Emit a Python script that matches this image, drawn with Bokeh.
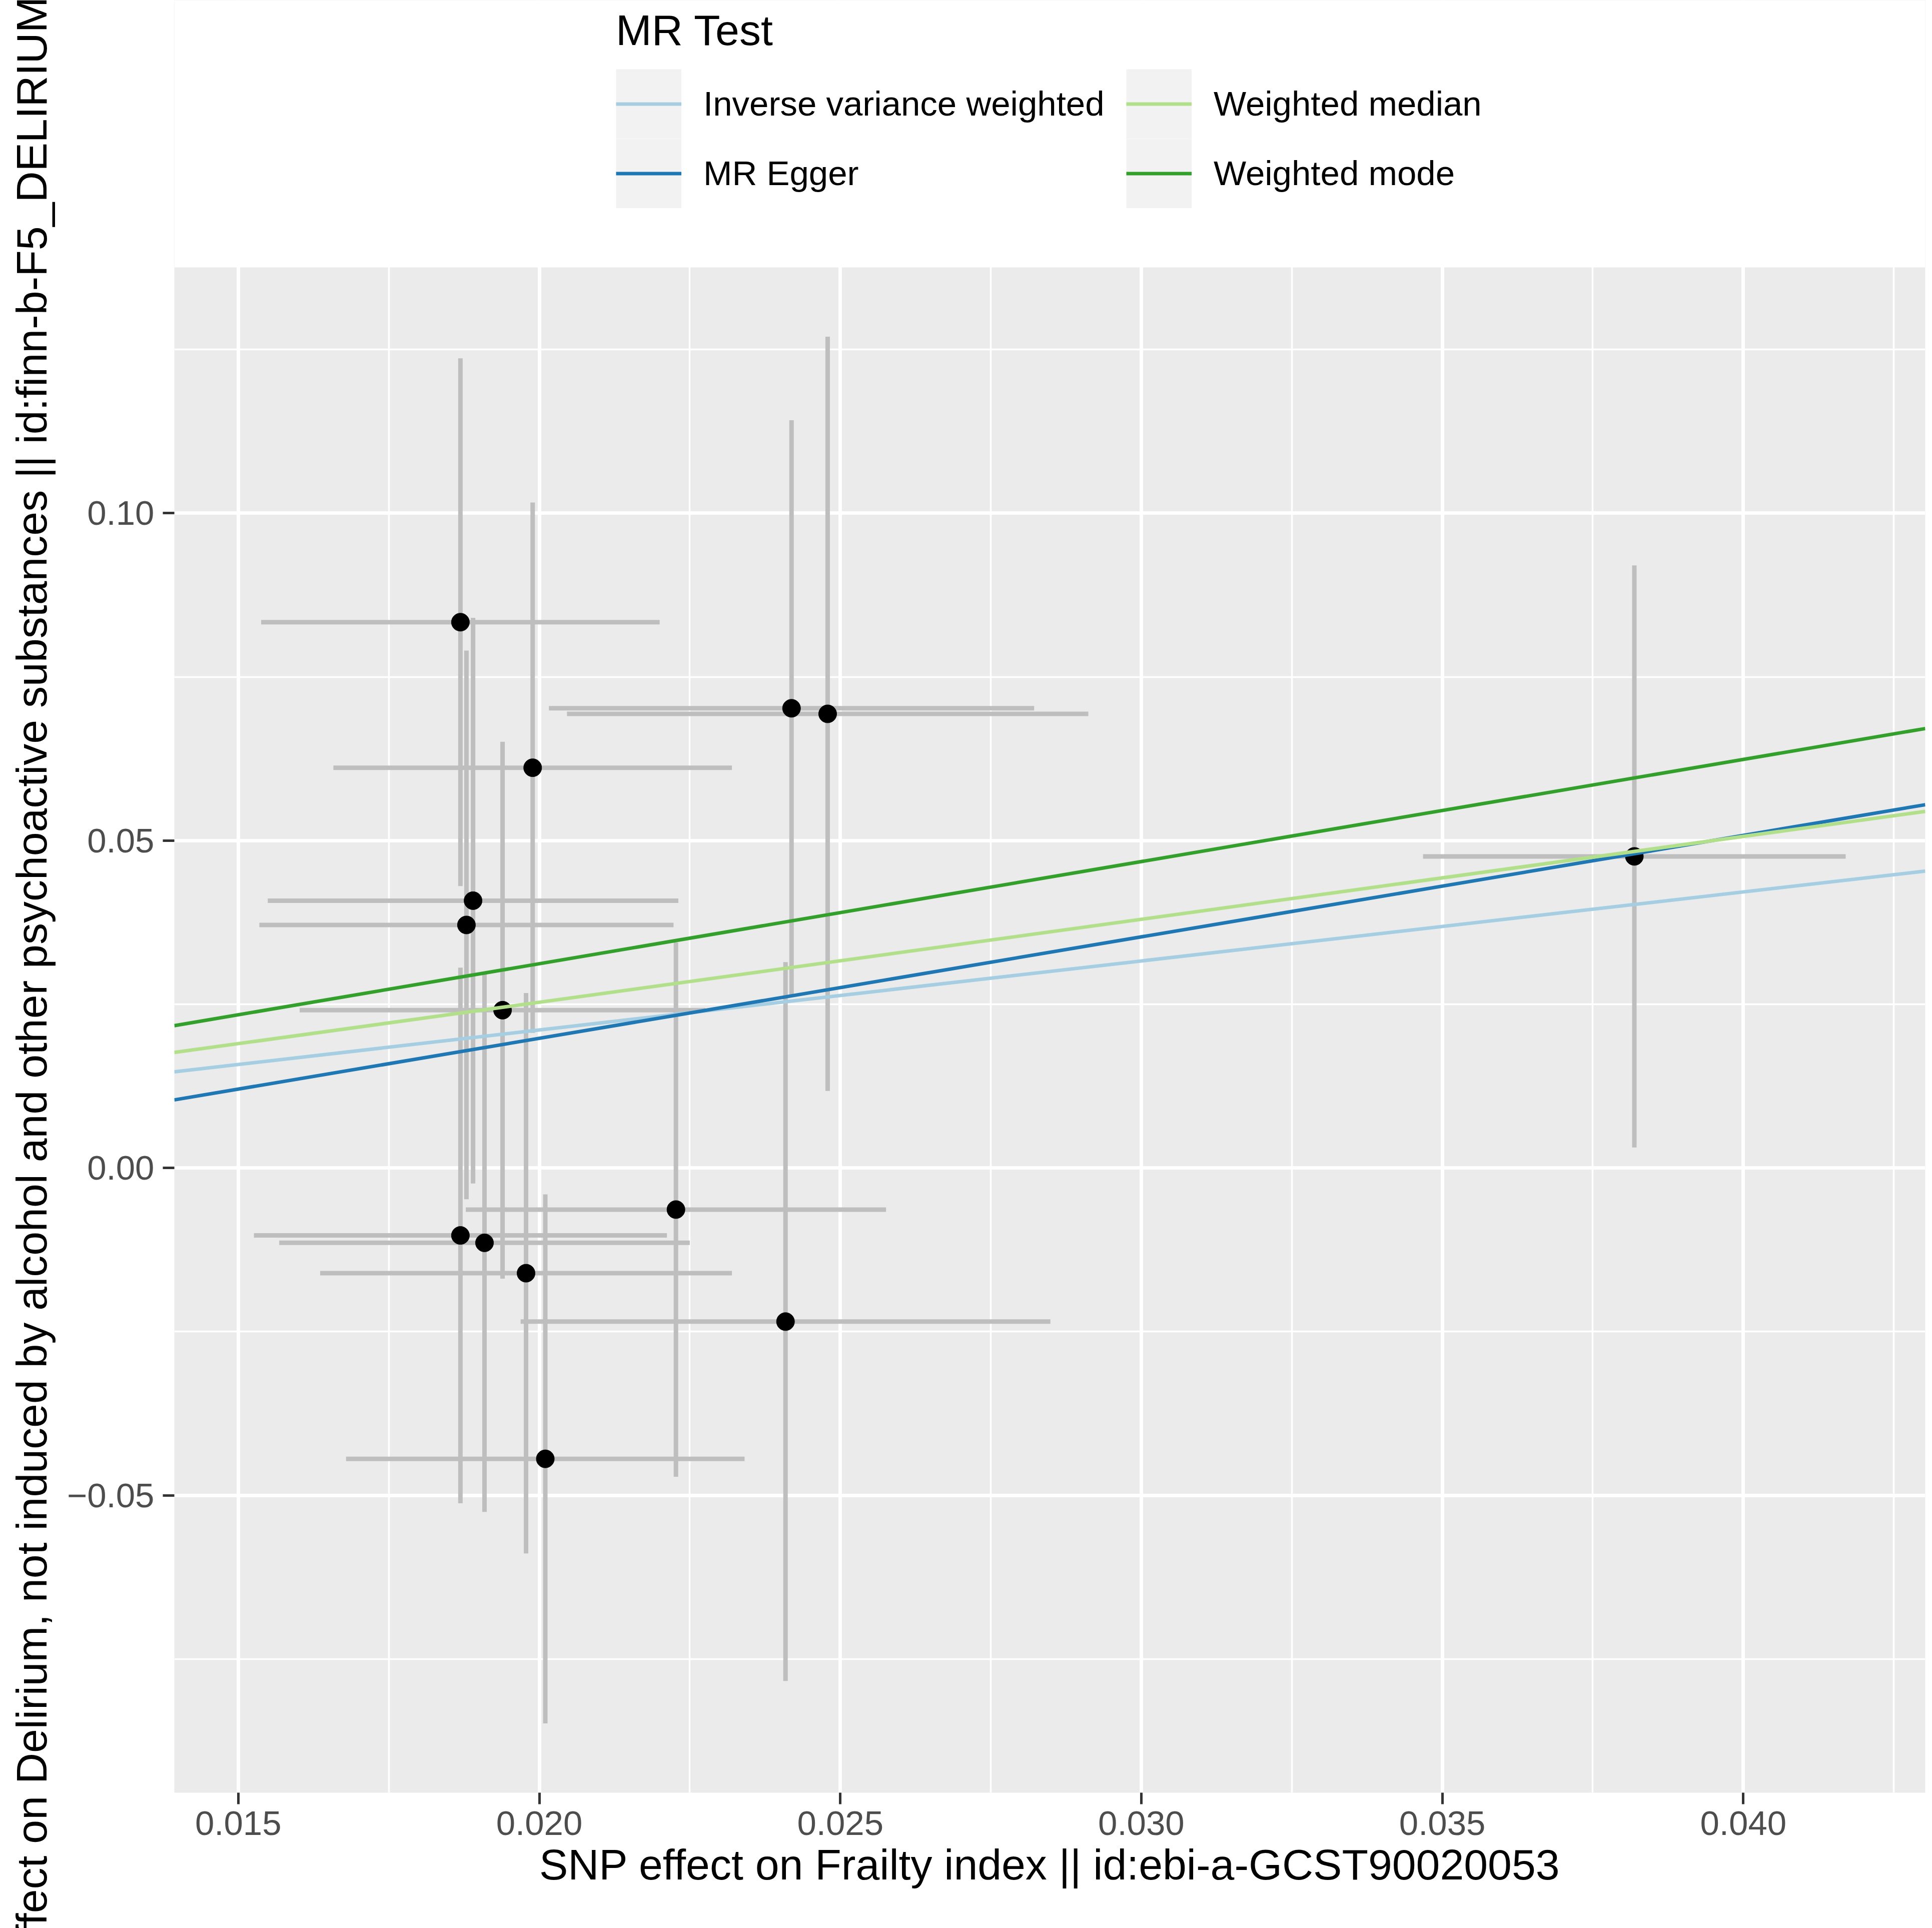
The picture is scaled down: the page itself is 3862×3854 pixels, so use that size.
from bokeh.plotting import figure
from bokeh.models import FixedTicker, Legend, LegendItem, Range1d, BoxAnnotation
from bokeh.embed import file_html
from bokeh.resources import INLINE

# ---------------- data ----------------
x_title = "SNP effect on Frailty index || id:ebi-a-GCST90020053"
y_title = ("SNP effect on Delirium, not induced by alcohol and other psychoactive "
           "substances || id:finn-b-F5_DELIRIUM")
legend_title = "MR Test"

beta_exp = [0.01869, 0.02419, 0.02479, 0.01989, 0.01890, 0.01879, 0.01939,
            0.03819, 0.02227, 0.01869, 0.01909, 0.01978, 0.02409, 0.02010]
se_exp = [0.00331, 0.00403, 0.00433, 0.00331, 0.00341, 0.00344, 0.00337,
          0.00351, 0.00349, 0.00343, 0.00341, 0.00342, 0.00440, 0.00331]
beta_out = [0.08336, 0.07021, 0.06936, 0.06113, 0.04083, 0.03712, 0.02410,
            0.04759, -0.00635, -0.01030, -0.01143, -0.01607, -0.02346, -0.04442]
se_out = [0.0403, 0.0440, 0.0576, 0.0405, 0.0432, 0.0419, 0.0410,
          0.04445, 0.0408, 0.0409, 0.0411, 0.0428, 0.0549, 0.0404]

methods = ["Inverse variance weighted", "MR Egger", "Weighted median", "Weighted mode"]
intercepts = [0.0, -0.0112, 0.0, 0.0]
slopes = [1.054, 1.55, 1.266, 1.56]
method_colors = ["#A6CEE3", "#1F78B4", "#B2DF8A", "#33A02C"]

x_ticks = [0.015, 0.020, 0.025, 0.030, 0.035, 0.040]
x_tick_labels = ["0.015", "0.020", "0.025", "0.030", "0.035", "0.040"]
x_minor = [0.0125, 0.0175, 0.0225, 0.0275, 0.0325, 0.0375, 0.0425]
y_ticks = [-0.05, 0.0, 0.05, 0.10]
y_tick_labels = ["\u22120.05", "0.00", "0.05", "0.10"]
y_minor = [-0.075, -0.025, 0.025, 0.075, 0.125]

# ---------------- scales (ggplot-like 5% expansion) ----------------
x_lo_d = min(b - s for b, s in zip(beta_exp, se_exp))
x_hi_d = max(b + s for b, s in zip(beta_exp, se_exp))
y_lo_d = min(b - s for b, s in zip(beta_out, se_out))
y_hi_d = max(b + s for b, s in zip(beta_out, se_out))
xpad = (x_hi_d - x_lo_d) * 0.05
ypad = (y_hi_d - y_lo_d) * 0.05
xlo, xhi = x_lo_d - xpad, x_hi_d + xpad
ylo, yhi = y_lo_d - ypad, y_hi_d + ypad

# layout: the frame also covers the legend strip above the panel
W, H = 3862, 3854
B_LEFT, B_RIGHT, B_BOTTOM = 348, 14, 271
LEGEND_STRIP = 534
frame_h = H - B_BOTTOM
panel_h = frame_h - LEGEND_STRIP
ytop = ylo + (yhi - ylo) * frame_h / panel_h

FONT = "Liberation Sans"

p = figure(width=W, height=H,
           x_range=Range1d(xlo, xhi), y_range=Range1d(ylo, ytop),
           output_backend="svg", toolbar_location=None,
           min_border_left=B_LEFT, min_border_right=B_RIGHT,
           min_border_top=0, min_border_bottom=B_BOTTOM)
p.background_fill_color = "#EBEBEB"
p.border_fill_color = "white"
p.outline_line_color = None

# error bars
p.segment(x0=beta_exp, x1=beta_exp,
          y0=[b - s for b, s in zip(beta_out, se_out)],
          y1=[b + s for b, s in zip(beta_out, se_out)],
          line_color="#BEBEBE", line_width=9)
p.segment(x0=[b - s for b, s in zip(beta_exp, se_exp)],
          x1=[b + s for b, s in zip(beta_exp, se_exp)],
          y0=beta_out, y1=beta_out,
          line_color="#BEBEBE", line_width=9)

# points
p.scatter(beta_exp, beta_out, size=36, color="black")

# regression lines (drawn across the whole panel, like abline)
items = []
for m, a, b, c in zip(methods, intercepts, slopes, method_colors):
    xs = [xlo, xhi]
    ys = [a + b * xlo, a + b * xhi]
    bg = p.line(xs, ys, line_color="#F2F2F2", line_width=139, visible=False)
    r = p.line(xs, ys, line_color=c, line_width=7)
    items.append(LegendItem(label=m, renderers=[bg, r]))

# white strip above the panel (hides grid/background there)
p.add_layout(BoxAnnotation(bottom=yhi, fill_color="white", fill_alpha=1.0,
                           line_color=None))

legend = Legend(items=items, location=(883, frame_h - 416), orientation="vertical",
                ncols=2, nrows=2,
                title=legend_title, title_text_font=FONT, title_text_font_size="86px",
                title_text_font_style="normal", title_text_color="black",
                title_standoff=28,
                label_text_font=FONT, label_text_font_size="69px", label_text_color="black",
                glyph_width=131, glyph_height=139, label_standoff=44,
                label_width=845, spacing=0, padding=0, margin=0,
                background_fill_alpha=0, border_line_alpha=0)
p.add_layout(legend, "center")

# axes
xt = FixedTicker(ticks=x_ticks, minor_ticks=x_minor)
yt = FixedTicker(ticks=y_ticks, minor_ticks=y_minor)
p.xaxis.ticker = xt
p.yaxis.ticker = yt
p.xgrid.ticker = xt
p.ygrid.ticker = yt
p.xaxis.major_label_overrides = dict(zip(x_ticks, x_tick_labels))
p.yaxis.major_label_overrides = dict(zip(y_ticks, y_tick_labels))
p.yaxis.bounds = (ylo, yhi)

for g in (p.xgrid, p.ygrid):
    g.grid_line_color = "white"
    g.grid_line_width = 7
    g.minor_grid_line_color = "white"
    g.minor_grid_line_width = 3.5

for ax in (p.xaxis, p.yaxis):
    ax.axis_line_color = None
    ax.minor_tick_line_color = None
    ax.major_tick_in = 0
    ax.major_tick_out = 23
    ax.major_tick_line_color = "#333333"
    ax.major_tick_line_width = 5
    ax.major_label_text_font = FONT
    ax.major_label_text_font_size = "69px"
    ax.major_label_text_color = "#4D4D4D"
    ax.axis_label_text_font = FONT
    ax.axis_label_text_font_size = "86px"
    ax.axis_label_text_font_style = "normal"
    ax.axis_label_text_color = "black"

# the y label is centred on the whole frame (legend strip included);
# trailing no-break spaces move the visible text to the panel's centre
p.xaxis.axis_label = x_title
p.yaxis.axis_label = y_title + "\u00a0" * 22
p.xaxis.major_label_standoff = 14
p.xaxis.axis_label_standoff = 8
p.yaxis.major_label_standoff = 17
p.yaxis.axis_label_standoff = 20

html = file_html(p, INLINE)
with open("out.html", "w") as f:
    f.write(html)
